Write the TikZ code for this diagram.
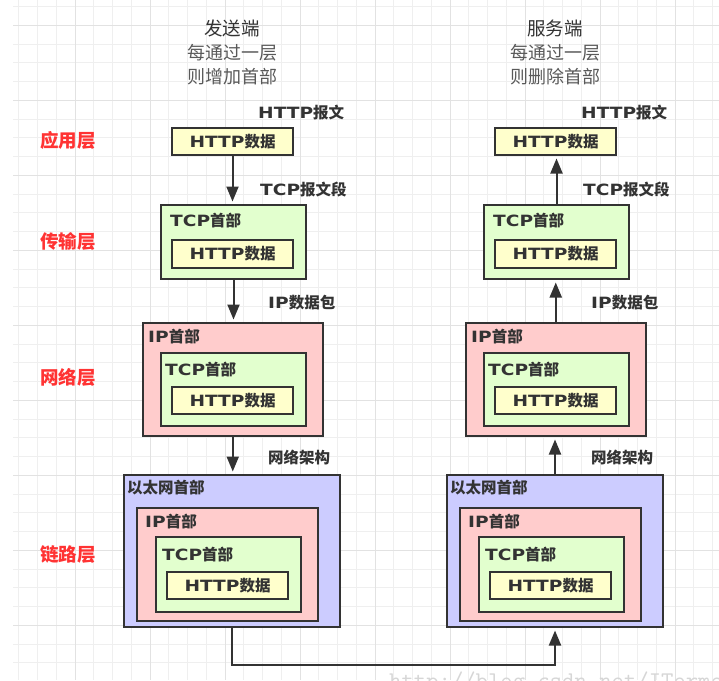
\documentclass[tikz,border=0pt]{standalone}
\usepackage{fontspec}
\setmainfont{DejaVu Sans}
\newfontfamily\cjk{Noto Sans CJK SC}
\newfontfamily\latb[FakeStretch=1.2]{DejaVu Sans}
\usetikzlibrary{arrows.meta}
\definecolor{bd}{HTML}{333333}
\definecolor{hy}{HTML}{FFFFCC}
\definecolor{hg}{HTML}{E2FFCE}
\definecolor{hp}{HTML}{FFCCCC}
\definecolor{hb}{HTML}{CCCCFF}
\definecolor{rd}{HTML}{FF3333}
\definecolor{gmin}{HTML}{EFEFEF}
\definecolor{gmaj}{HTML}{E2E2E2}
\definecolor{wm}{HTML}{D6D6D6}
\newcommand\La[1]{{\latb\bfseries #1}}
\tikzset{
  box/.style={draw=bd, line width=2pt, inner sep=0pt, anchor=north west},
  lbl/.style={font=\cjk\bfseries\fontsize{15.5}{18}\selectfont, text=bd, inner sep=0pt, anchor=west},
  btxt/.style={font=\cjk\bfseries\fontsize{15.5}{18}\selectfont, text=bd},
  layer/.style={font=\cjk\bfseries\fontsize{18.5}{22}\selectfont, text=rd, inner sep=0pt, anchor=west},
  head/.style={font=\cjk\fontsize{18.5}{22}\selectfont, text=bd, inner sep=0pt},
  sub/.style={font=\cjk\fontsize{18}{22}\selectfont, text=black!65, inner sep=0pt},
  arr/.style={draw=bd, line width=2pt, -{Triangle[length=15pt,width=12pt]}, shorten >=2.5pt},
}
\begin{document}
\begin{tikzpicture}[x=1pt,y=-1pt]
\useasboundingbox (0,0) rectangle (719,680);
\fill[white] (0,0) rectangle (719,680);
% grid
\foreach \i in {1,...,38} \draw[gmin, line width=1pt] (\i*18.75,0) -- (\i*18.75,680);
\foreach \j in {0,...,36} \draw[gmin, line width=1pt] (13,6.7+\j*18.75) -- (719,6.7+\j*18.75);
\foreach \i in {4,8,...,36} \draw[gmaj, line width=1pt] (\i*18.75,0) -- (\i*18.75,680);
\foreach \j in {1,5,...,33} \draw[gmaj, line width=1pt] (13,6.7+\j*18.75) -- (719,6.7+\j*18.75);

% headers
\node[head] (hs) at (232,28) {发送端};
\node[sub] (hs1) at (232,53) {每通过一层};
\node[sub] (hs2) at (232,77) {则增加首部};
\node[head] (hr) at (555,28) {服务端};
\node[sub] (hr1) at (555,53) {每通过一层};
\node[sub] (hr2) at (555,77) {则删除首部};

% layer names
\node[layer] (l1) at (40,140) {应用层};
\node[layer] (l2) at (40,241) {传输层};
\node[layer] (l3) at (40,377) {网络层};
\node[layer] (l4) at (40,555) {链路层};

\foreach \p/\dx in {s/0,r/323}{
\begin{scope}[xshift=\dx pt]
  % application
  \node[box, fill=hy, minimum width=121pt, minimum height=27pt] (\p1) at (171,127) {};
  \node[btxt] (\p1x) at (\p1.center) {\La{HTTP}数据};
  % transport
  \node[box, fill=hg, minimum width=145pt, minimum height=74pt] (\p2) at (160,204) {};
  \node[lbl] (\p2x) at (170,221) {\La{TCP}首部};
  \node[box, fill=hy, minimum width=121pt, minimum height=28pt] (\p2h) at (171,239) {};
  \node[btxt] (\p2hx) at (\p2h.center) {\La{HTTP}数据};
  % network
  \node[box, fill=hp, minimum width=180.5pt, minimum height=113pt] (\p3) at (141.5,322) {};
  \node[lbl] (\p3x) at (148,337) {\La{IP}首部};
  \node[box, fill=hg, minimum width=145pt, minimum height=73pt] (\p3t) at (160,352) {};
  \node[lbl] (\p3tx) at (165,370) {\La{TCP}首部};
  \node[box, fill=hy, minimum width=121pt, minimum height=27pt] (\p3h) at (171,386) {};
  \node[btxt] (\p3hx) at (\p3h.center) {\La{HTTP}数据};
  % link
  \node[box, fill=hb, minimum width=216pt, minimum height=152pt] (\p4) at (123,474) {};
  \node[lbl] (\p4x) at (127,488) {以太网首部};
  \node[box, fill=hp, minimum width=181pt, minimum height=113pt] (\p4i) at (136,507) {};
  \node[lbl] (\p4ix) at (145,522) {\La{IP}首部};
  \node[box, fill=hg, minimum width=145pt, minimum height=75pt] (\p4t) at (155,536) {};
  \node[lbl] (\p4tx) at (162,555) {\La{TCP}首部};
  \node[box, fill=hy, minimum width=121pt, minimum height=27pt] (\p4h) at (166,571) {};
  \node[btxt] (\p4hx) at (\p4h.center) {\La{HTTP}数据};
  % unit names
  \node[lbl] (\p a) at (258,113) {\La{HTTP}报文};
  \node[lbl] (\p b) at (260,190) {\La{TCP}报文段};
  \node[lbl] (\p c) at (268,303) {\La{IP}数据包};
  \node[lbl] (\p d) at (268,458) {网络架构};
\end{scope}
}

% sender arrows (down)
\draw[arr] (s1.south) -- (s1.south |- s2.north);
\draw[arr] (s2.south) -- (s2.south |- s3.north);
\draw[arr] (s3.south) -- (s3.south |- s4.north);
% receiver arrows (up)
\draw[arr] (r2.north) -- (r2.north |- r1.south);
\draw[arr] (r3.north) -- (r3.north |- r2.south);
\draw[arr] (r4.north) -- (r4.north |- r3.south);
% link between the two hosts
\draw[arr] (s4.south) -- ++(0,37) -| (r4.south);

% watermark
\begin{scope}
\clip (0,0) rectangle (719,680);
\node[font=\ttfamily\fontsize{24}{26}\selectfont, text=wm, inner sep=0pt, anchor=base west] (wmk) at (389,688) {http://blog.csdn.net/ITermeng};
\end{scope}
\end{tikzpicture}
\end{document}
